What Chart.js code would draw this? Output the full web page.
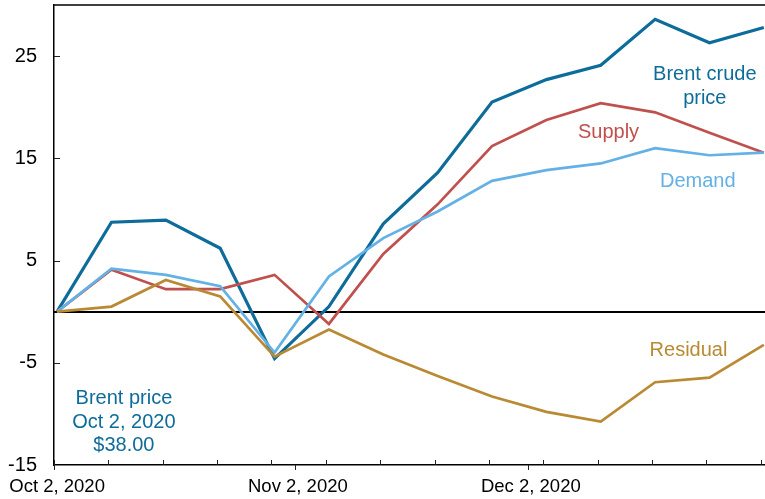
<!DOCTYPE html>
<html>
<head>
<meta charset="utf-8">
<script src="https://cdn.jsdelivr.net/npm/chart.js@4"></script>
<style>
  body { margin: 0; background: #fff; }
  #wrap { width: 765px; height: 499px; }
</style>
</head>
<body>
<div id="wrap"><canvas id="chart" width="765" height="499"></canvas></div>
<script>
// weekly observations, change since Oct 2, 2020 ($/barrel)
const dates = ['2020-10-02', '2020-10-09', '2020-10-16', '2020-10-23', '2020-10-30', '2020-11-06', '2020-11-13',
               '2020-11-20', '2020-11-27', '2020-12-04', '2020-12-11', '2020-12-18', '2020-12-25', '2021-01-01'];
const brent    = [0, 8.75, 8.95, 6.2, -4.6, 0.5, 8.6, 13.6, 20.5, 22.7, 24.1, 28.6, 26.3, 27.8];
const supply   = [0, 4.1, 2.2, 2.2, 3.6, -1.2, 5.65, 10.5, 16.2, 18.75, 20.4, 19.5, 17.5, 15.55];
const demand   = [0, 4.2, 3.6, 2.5, -4.0, 3.45, 7.2, 9.8, 12.8, 13.85, 14.5, 16.0, 15.3, 15.55];
const residual = [0, 0.5, 3.1, 1.5, -4.4, -1.75, -4.2, -6.3, -8.3, -9.8, -10.75, -6.9, -6.45, -3.25];

const yTicks = [-15, -5, 5, 15, 25];
const xTickDates = ['2020-10-02', '2020-11-02', '2020-12-02'];
const xTickLabels = ['Oct 2, 2020', 'Nov 2, 2020', 'Dec 2, 2020'];

// day offset from first date
const dayOf = (d) => Math.round((Date.parse(d) - Date.parse(dates[0])) / 86400000);
const days = dates.map(dayOf);
const xTickDays = xTickDates.map(dayOf);

const C_BRENT = '#0e6c9b', C_SUPPLY = '#c0504d', C_DEMAND = '#63b1e5', C_RESID = '#b98a33';
const FONT = "'Liberation Sans', Arial, sans-serif";

const series = (label, vals, color, w) => ({
    label: label,
    data: vals.map((v, i) => ({ x: days[i], y: v })),
    borderColor: color,
    borderWidth: w,
    pointRadius: 0,
    tension: 0,
    fill: false
});

// text labels placed in data space
const notes = [
    { lines: ['Brent crude', 'price'], x: 83.4, y: 23.2, color: C_BRENT },
    { lines: ['Supply'], x: 71.0, y: 17.5, color: C_SUPPLY },
    { lines: ['Demand'], x: 82.5, y: 12.7, color: C_DEMAND },
    { lines: ['Residual'], x: 81.3, y: -3.8, color: C_RESID },
    { lines: ['Brent price', 'Oct 2, 2020', '$38.00'], x: 8.6, y: -8.5, color: C_BRENT }
];

const extras = {
    id: 'extras',
    beforeDatasetsDraw(chart) {
        const { ctx, chartArea: a, scales: { x, y } } = chart;
        ctx.save();
        // zero line
        ctx.strokeStyle = '#000';
        ctx.lineWidth = 2;
        const y0 = Math.round(y.getPixelForValue(0));
        ctx.beginPath(); ctx.moveTo(a.left, y0); ctx.lineTo(a.right, y0); ctx.stroke();
        // top frame
        ctx.lineWidth = 1.5;
        ctx.beginPath(); ctx.moveTo(a.left, a.top); ctx.lineTo(a.right, a.top); ctx.stroke();
        // tick marks
        ctx.strokeStyle = '#222';
        ctx.lineWidth = 1;
        yTicks.slice(1).forEach(v => {
            const py = Math.round(y.getPixelForValue(v)) + 0.5;
            ctx.beginPath(); ctx.moveTo(a.left, py); ctx.lineTo(a.left + 6, py); ctx.stroke();
        });
        days.forEach(d => {
            const px = Math.round(x.getPixelForValue(d - 0.4)) + 0.5;
            ctx.beginPath(); ctx.moveTo(px, a.bottom); ctx.lineTo(px, a.bottom - 5); ctx.stroke();
        });
        xTickDays.forEach(d => {
            const px = Math.round(x.getPixelForValue(d - 0.4)) + 0.5;
            ctx.beginPath(); ctx.moveTo(px, a.bottom); ctx.lineTo(px, a.bottom + 5); ctx.stroke();
        });
        ctx.restore();
    },
    afterDatasetsDraw(chart) {
        const { ctx, scales: { x, y } } = chart;
        ctx.save();
        ctx.font = '20px ' + FONT;
        ctx.textAlign = 'center';
        ctx.textBaseline = 'middle';
        notes.forEach(n => {
            ctx.fillStyle = n.color;
            const px = x.getPixelForValue(n.x);
            const py = y.getPixelForValue(n.y);
            n.lines.forEach((t, i) => ctx.fillText(t, px, py + i * 23.5));
        });
        ctx.restore();
    }
};

new Chart(document.getElementById('chart'), {
    type: 'line',
    data: {
        datasets: [
            series('Residual', residual, C_RESID, 2.7),
            series('Demand', demand, C_DEMAND, 2.7),
            series('Supply', supply, C_SUPPLY, 2.7),
            series('Brent crude price', brent, C_BRENT, 3.2)
        ]
    },
    options: {
        responsive: false,
        animation: false,
        layout: { padding: { top: 5, right: 0, left: 0, bottom: 0 } },
        plugins: {
            legend: { display: false },
            tooltip: { enabled: false }
        },
        scales: {
            x: {
                type: 'linear',
                min: -0.4,
                max: 91.15,
                afterFit: (s) => { s.height = 34; s.paddingLeft = 0; s.paddingRight = 0; },
                afterBuildTicks: (s) => { s.ticks = xTickDays.map(v => ({ value: v })); },
                grid: { display: false, drawTicks: false },
                border: { display: true, color: '#000', width: 1.5 },
                ticks: {
                    padding: 11,
                    autoSkip: false,
                    maxRotation: 0,
                    color: '#000',
                    font: { family: FONT, size: 18.5 },
                    callback: (v) => xTickLabels[xTickDays.indexOf(v)] || ''
                }
            },
            y: {
                min: -15,
                max: 30,
                afterFit: (s) => { s.width = 54; s.paddingTop = 0; s.paddingBottom = 0; },
                afterBuildTicks: (s) => { s.ticks = yTicks.map(v => ({ value: v })); },
                grid: { display: false, drawTicks: false },
                border: { display: true, color: '#000', width: 1.5 },
                ticks: {
                    padding: 17,
                    color: '#000',
                    font: { family: FONT, size: 20 }
                }
            }
        }
    },
    plugins: [extras]
});
</script>
</body>
</html>
